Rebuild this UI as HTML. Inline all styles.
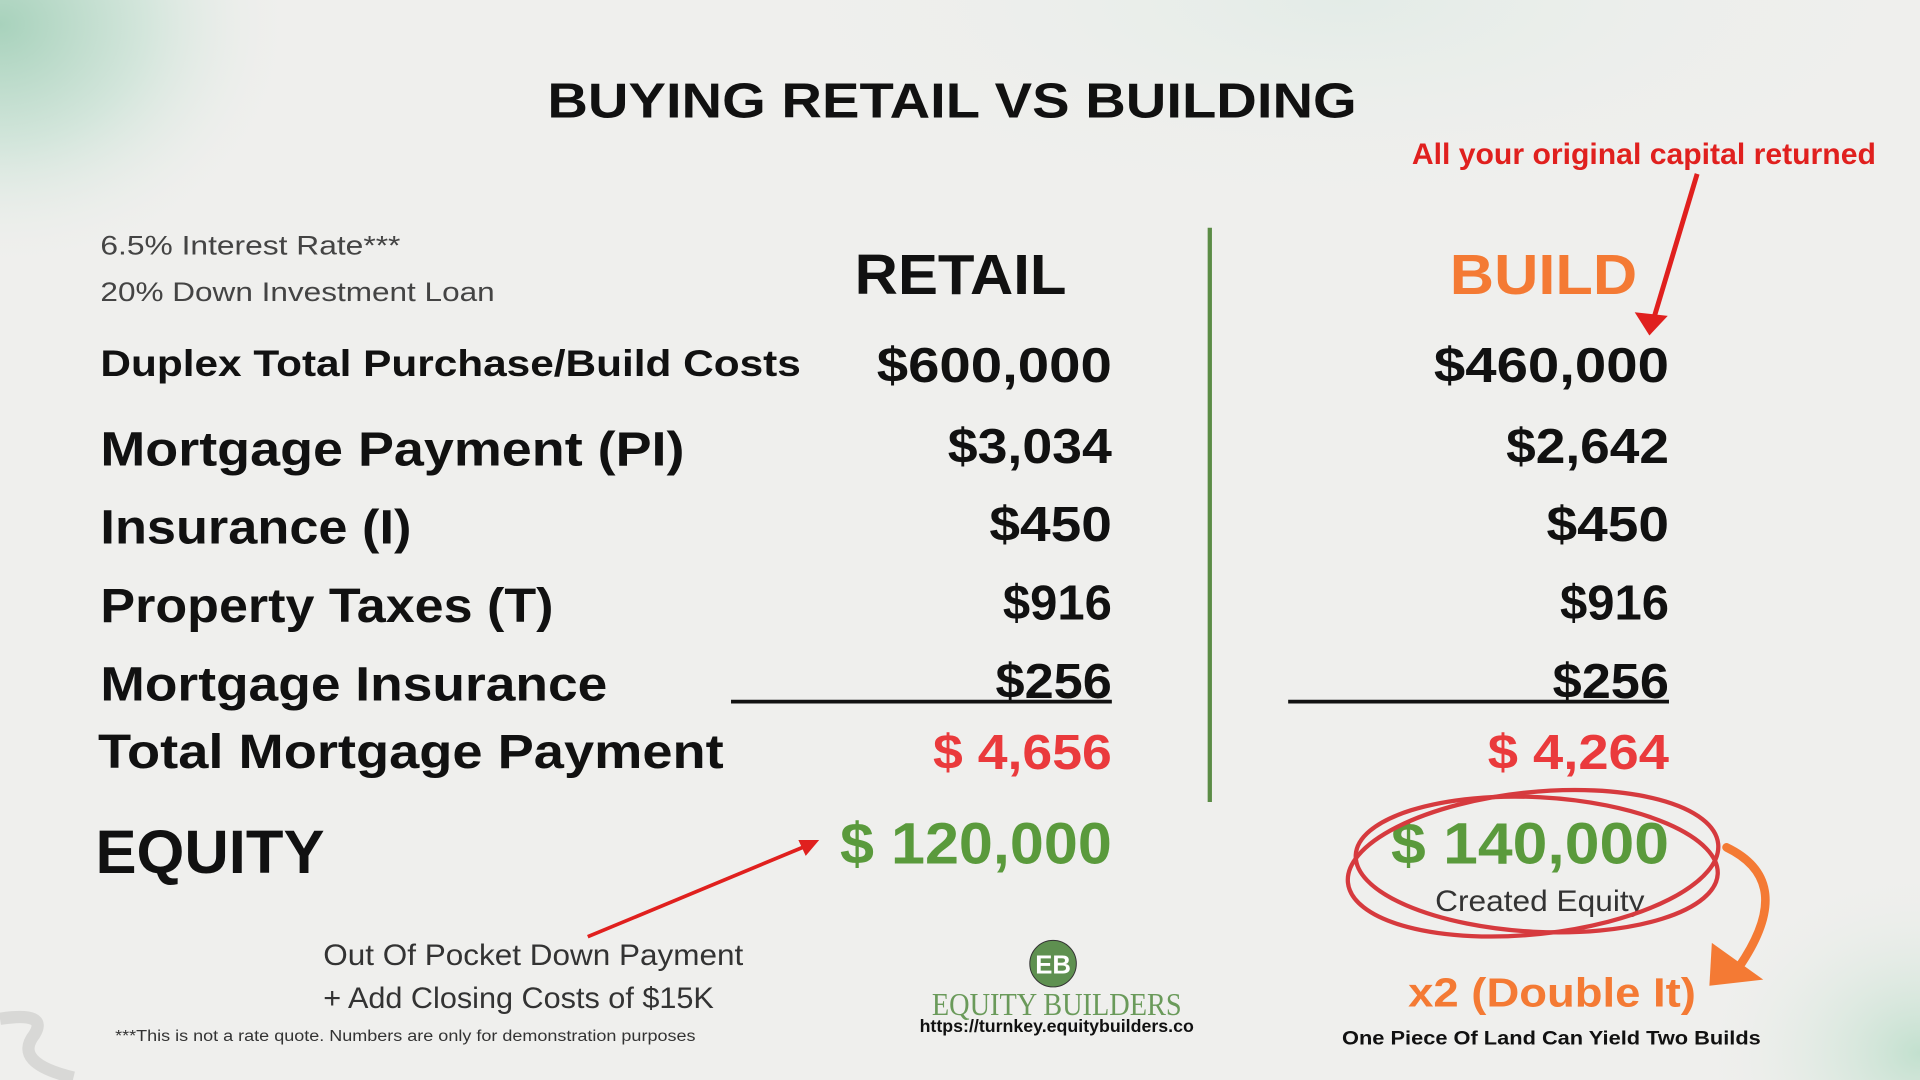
<!DOCTYPE html>
<html><head><meta charset="utf-8">
<style>
html,body{margin:0;padding:0;width:1920px;height:1080px;overflow:hidden;background:#efefed;}
svg{display:block;font-family:"Liberation Sans",sans-serif;}
</style></head>
<body>
<svg width="1920" height="1080" viewBox="0 0 1568 882" xmlns="http://www.w3.org/2000/svg">
<defs>
<radialGradient id="g1" cx="0" cy="0" r="1" gradientUnits="userSpaceOnUse" gradientTransform="translate(0 20) scale(240 200)">
<stop offset="0" stop-color="#a8d2bc"/><stop offset="0.5" stop-color="#d4e6dc"/><stop offset="1" stop-color="#efefed" stop-opacity="0"/></radialGradient>
<radialGradient id="g2" cx="0" cy="0" r="1" gradientUnits="userSpaceOnUse" gradientTransform="translate(1568 860) scale(180 150)">
<stop offset="0" stop-color="#c2e0ce"/><stop offset="1" stop-color="#efefed" stop-opacity="0"/></radialGradient>
<radialGradient id="g3" cx="0" cy="0" r="1" gradientUnits="userSpaceOnUse" gradientTransform="translate(1100 0) scale(500 180)">
<stop offset="0" stop-color="#e3ece7"/><stop offset="1" stop-color="#efefed" stop-opacity="0"/></radialGradient>
</defs>
<rect width="1568" height="882" fill="#efefed"/>
<rect width="1568" height="882" fill="url(#g3)"/>
<rect width="1568" height="882" fill="url(#g1)"/>
<rect width="1568" height="882" fill="url(#g2)"/>
<path d="M0 832 Q40 826 28 845 Q10 868 60 880" stroke="#d8d8d6" stroke-width="10" fill="none"/>

<text x="447" y="96" font-size="40" font-weight="bold" fill="#111" textLength="661" lengthAdjust="spacingAndGlyphs">BUYING RETAIL VS BUILDING</text>
<text x="1153" y="134" font-size="24" font-weight="bold" fill="#e0201e" textLength="379" lengthAdjust="spacingAndGlyphs">All your original capital returned</text>
<path d="M1386 142 L1350 262" stroke="#e0201e" stroke-width="4" fill="none"/>
<path d="M1335 255 L1347 274 L1362 258 Z" fill="#e0201e"/>

<text x="82" y="208" font-size="22" fill="#444" textLength="245" lengthAdjust="spacingAndGlyphs">6.5% Interest Rate***</text>
<text x="82" y="246" font-size="22" fill="#444" textLength="322" lengthAdjust="spacingAndGlyphs">20% Down Investment Loan</text>

<text x="698" y="240" font-size="46" font-weight="bold" fill="#111" textLength="173" lengthAdjust="spacingAndGlyphs">RETAIL</text>
<text x="1184" y="240" font-size="46" font-weight="bold" fill="#f47a34" textLength="153" lengthAdjust="spacingAndGlyphs">BUILD</text>

<line x1="988" y1="186" x2="988" y2="655" stroke="#5b8c46" stroke-width="3.5"/>

<g font-weight="bold" fill="#111">
<text x="82" y="307" font-size="30" textLength="572" lengthAdjust="spacingAndGlyphs">Duplex Total Purchase/Build Costs</text>
<text x="82" y="380" font-size="39" textLength="477" lengthAdjust="spacingAndGlyphs">Mortgage Payment (PI)</text>
<text x="82" y="444" font-size="39" textLength="254" lengthAdjust="spacingAndGlyphs">Insurance (I)</text>
<text x="82" y="508" font-size="39" textLength="370" lengthAdjust="spacingAndGlyphs">Property Taxes (T)</text>
<text x="82" y="572" font-size="39" textLength="414" lengthAdjust="spacingAndGlyphs">Mortgage Insurance</text>
<text x="80" y="627" font-size="39" textLength="511" lengthAdjust="spacingAndGlyphs">Total Mortgage Payment</text>
<text x="78" y="713" font-size="50" textLength="187" lengthAdjust="spacingAndGlyphs">EQUITY</text>

<text x="908" y="312" font-size="40" text-anchor="end" textLength="192" lengthAdjust="spacingAndGlyphs">$600,000</text>
<text x="908" y="378" font-size="40" text-anchor="end" textLength="134" lengthAdjust="spacingAndGlyphs">$3,034</text>
<text x="908" y="442" font-size="40" text-anchor="end" textLength="100" lengthAdjust="spacingAndGlyphs">$450</text>
<text x="908" y="506" font-size="40" text-anchor="end" textLength="89" lengthAdjust="spacingAndGlyphs">$916</text>
<text x="908" y="570" font-size="40" text-anchor="end" textLength="95" lengthAdjust="spacingAndGlyphs">$256</text>
<line x1="597" y1="573" x2="908" y2="573" stroke="#111" stroke-width="3"/>

<text x="1363" y="312" font-size="40" text-anchor="end" textLength="192" lengthAdjust="spacingAndGlyphs">$460,000</text>
<text x="1363" y="378" font-size="40" text-anchor="end" textLength="133" lengthAdjust="spacingAndGlyphs">$2,642</text>
<text x="1363" y="442" font-size="40" text-anchor="end" textLength="100" lengthAdjust="spacingAndGlyphs">$450</text>
<text x="1363" y="506" font-size="40" text-anchor="end" textLength="89" lengthAdjust="spacingAndGlyphs">$916</text>
<text x="1363" y="570" font-size="40" text-anchor="end" textLength="95" lengthAdjust="spacingAndGlyphs">$256</text>
<line x1="1052" y1="573" x2="1363" y2="573" stroke="#111" stroke-width="3"/>
</g>

<text x="908" y="628" font-size="40" font-weight="bold" fill="#ea3a3c" text-anchor="end" textLength="146" lengthAdjust="spacingAndGlyphs">$ 4,656</text>
<text x="1363" y="628" font-size="40" font-weight="bold" fill="#ea3a3c" text-anchor="end" textLength="148" lengthAdjust="spacingAndGlyphs">$ 4,264</text>

<text x="908" y="705" font-size="48" font-weight="bold" fill="#5a9a3c" text-anchor="end" textLength="222" lengthAdjust="spacingAndGlyphs">$ 120,000</text>
<text x="1363" y="705" font-size="48" font-weight="bold" fill="#5a9a3c" text-anchor="end" textLength="227" lengthAdjust="spacingAndGlyphs">$ 140,000</text>
<text x="1172" y="744" font-size="24" fill="#333" textLength="171" lengthAdjust="spacingAndGlyphs">Created Equity</text>

<g fill="none" stroke="#d63a3e" stroke-width="3.5">
<ellipse cx="1252" cy="705" rx="152" ry="58" transform="rotate(-6 1252 705)"/>
<ellipse cx="1255" cy="706" rx="148" ry="55" transform="rotate(3 1255 706)"/>
</g>
<path d="M1410 692 Q1468 720 1420 790" stroke="#f47a34" stroke-width="7" fill="none" stroke-linecap="round"/>
<path d="M1398 770 L1396 805 L1440 800 Z" fill="#f47a34"/>

<text x="1150" y="822" font-size="33" font-weight="bold" fill="#f47a34" textLength="235" lengthAdjust="spacingAndGlyphs">x2 (Double It)</text>
<text x="1096" y="853" font-size="16" font-weight="bold" fill="#111" textLength="342" lengthAdjust="spacingAndGlyphs">One Piece Of Land Can Yield Two Builds</text>

<path d="M480 765 L658 691" stroke="#e0201e" stroke-width="3" fill="none"/>
<path d="M669 686 L652 686 L658 699 Z" fill="#e0201e"/>
<text x="264" y="788" font-size="24" fill="#333" textLength="343" lengthAdjust="spacingAndGlyphs">Out Of Pocket Down Payment</text>
<text x="264" y="823" font-size="24" fill="#333" textLength="319" lengthAdjust="spacingAndGlyphs">+ Add Closing Costs of $15K</text>
<text x="94" y="850" font-size="13" fill="#333" textLength="474" lengthAdjust="spacingAndGlyphs">***This is not a rate quote. Numbers are only for demonstration purposes</text>

<g>
<circle cx="860" cy="787" r="19" fill="#5e9050" stroke="#333" stroke-width="0.8"/>
<text x="860" y="795" font-size="21" font-weight="bold" fill="#fff" text-anchor="middle">EB</text>
<text x="761" y="829" font-size="26" fill="#6a9a5a" font-family="Liberation Serif, serif" textLength="204" lengthAdjust="spacingAndGlyphs">EQUITY BUILDERS</text>
<text x="751" y="843" font-size="14" font-weight="bold" fill="#111" textLength="224" lengthAdjust="spacingAndGlyphs">https://turnkey.equitybuilders.co</text>
</g>
</svg>
</body></html>
